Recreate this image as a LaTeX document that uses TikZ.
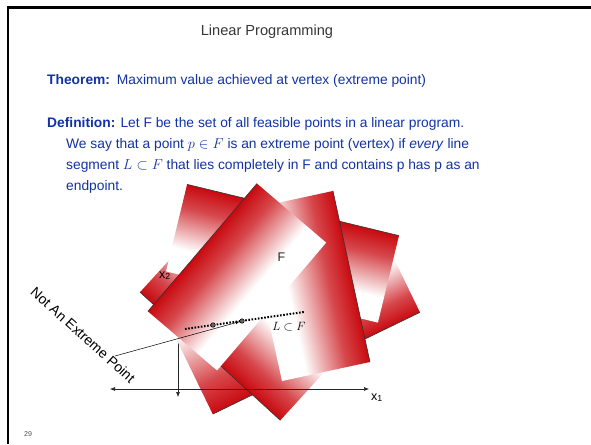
\documentclass[tikz,border=0pt]{standalone}
\usepackage{fontspec}
\setmainfont{Liberation Sans}
\usetikzlibrary{arrows.meta}
\definecolor{shred}{RGB}{200,10,16}
\definecolor{txtblue}{RGB}{18,50,165}
\definecolor{titlegray}{RGB}{55,55,55}
\pgfdeclarehorizontalshading{slabshade}{100bp}{color(0bp)=(shred); color(25bp)=(shred); color(38bp)=(shred!75!white); color(61bp)=(white); color(100bp)=(white)}
\newcommand\redslab[5]{%
  \begin{scope}[transform canvas={shift={(#1,#2)},rotate=#3}]
    \shade[shading=slabshade] (-#4/2,-#5/2) rectangle (#4/2,#5/2);
    \draw[line width=0.6pt, black!80] (-#4/2,-#5/2) -- (-#4/2,#5/2);
  \end{scope}}
\tikzset{
  bodytext/.style={anchor=base west, text=txtblue, font=\fontsize{13.8}{16}\selectfont, inner sep=0pt},
  axisline/.style={line width=0.6pt, black!85},
  tipA/.tip={Latex[length=5pt,width=4pt]},
  smalllab/.style={font=\fontsize{12.5}{14}\selectfont, inner sep=0pt},
  ptdot/.style={circle, fill=black!60, draw=black, line width=0.5pt, inner sep=0pt, minimum size=4.5pt}
}
\begin{document}
\begin{tikzpicture}[x=1pt,y=-1pt]
\useasboundingbox (0,0) rectangle (591,444);
\fill[white] (0,0) rectangle (591,444);
% frame
\draw[line width=2.2pt] (8,444) -- (8,7.5) -- (591,7.5);

% vertical axis (behind the shapes)
\coordinate (yt) at (178,272);
\coordinate (yb) at (178,397);
\draw[axisline, -tipA] (yt) -- (yb);

% feasible region built from shaded slabs (back to front)
\redslab{362}{296}{115.9}{80}{90}
\redslab{227}{340.5}{115.9}{120}{90}
\redslab{240.5}{323}{47.6}{90}{190}
\redslab{282.5}{253.5}{-103.6}{89.5}{218}
\redslab{307.5}{286}{-167.8}{90}{175}
\redslab{237}{277}{-40.5}{91}{168}

% horizontal axis
\coordinate (xl) at (110,389);
\coordinate (xr) at (369,389);
\draw[axisline, tipA-tipA] (xl) -- (xr);
\node[smalllab, anchor=base west] (xonelab) at (371,400) {x\textsubscript{1}};
\node[smalllab, anchor=base west] (xtwolab) at (159,278) {x\textsubscript{2}};

% segment L
\coordinate (dl) at (185,329);
\coordinate (dr) at (304,312);
\draw[line width=2pt, dash pattern=on 1.6pt off 1.6pt] (dl) -- (dr);
\node[ptdot] (pa) at (213,325) {};
\node[ptdot] (pb) at (242,321) {};
\coordinate (ptr) at (115,356);
\draw[line width=0.5pt, -{Latex[length=4pt,width=3pt]}] (ptr) -- (pb);

\node[font=\fontsize{13}{15}\selectfont, inner sep=0pt] (lf) at (289,327) {$L\subset F$};
\node[font=\fontsize{12.5}{14}\selectfont, inner sep=0pt, text=black!85] (flab) at (281.5,257.5) {F};
\node[font=\fontsize{14}{16}\selectfont, rotate=-42, inner sep=0pt] (nep) at (83,335) {Not An Extreme Point};

% texts
\node[anchor=base, font=\fontsize{14.6}{17}\selectfont, text=titlegray, inner sep=0pt] (title) at (267,36) {Linear Programming};
\node[bodytext] (thm) at (47,84) {\textbf{Theorem:}\hspace{0.5em}Maximum value achieved at vertex (extreme point)};
\node[bodytext] (defa) at (47,127) {\textbf{Definition:} Let F be the set of all feasible points in a linear program.};
\node[bodytext] (defb) at (66,148) {We say that a point $p\in F$ is an extreme point (vertex) if \textit{every} line};
\node[bodytext] (defc) at (66,169) {segment $L\subset F$ that lies completely in F and contains p has p as an};
\node[bodytext] (defd) at (66,190) {endpoint.};
\node[anchor=base west, font=\fontsize{7}{8}\selectfont, text=black!70, inner sep=0pt] (num) at (24,436) {29};
\end{tikzpicture}
\end{document}
